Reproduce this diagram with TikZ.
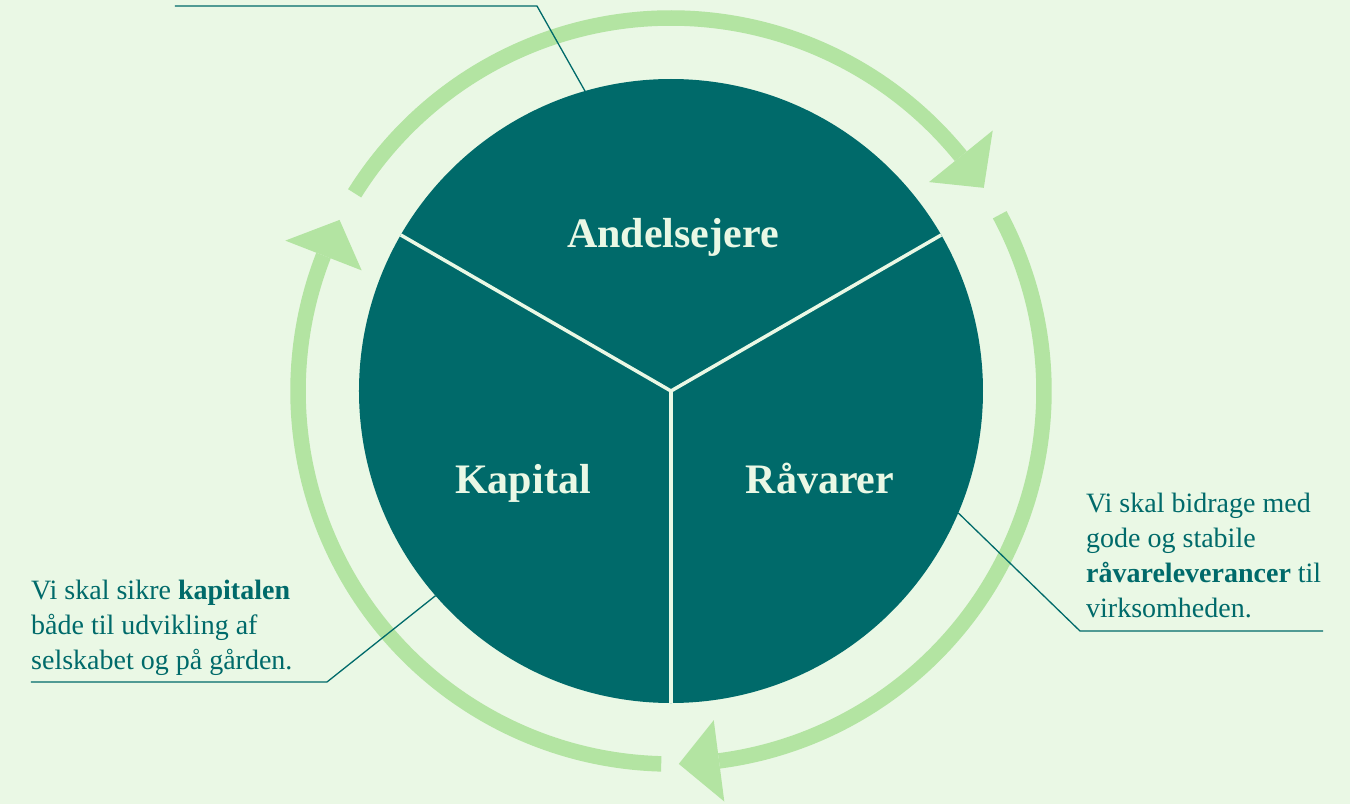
\documentclass[tikz,border=0pt]{standalone}
\usepackage{fontspec}
\setmainfont{Liberation Serif}
\definecolor{bgc}{HTML}{EAF8E5}
\definecolor{tealc}{HTML}{006A6A}
\definecolor{ringc}{HTML}{B3E4A2}
\begin{document}
\begin{tikzpicture}[x=1pt,y=1pt,
  ring/.style={draw=ringc, line width=15.5pt},
  head/.style={fill=ringc},
  leader/.style={draw=tealc, line width=1.3pt},
  divider/.style={draw=bgc, line width=3.5pt},
  big/.style={text=bgc, font=\fontsize{42}{50}\selectfont\bfseries, inner sep=0pt, anchor=base},
  note/.style={text=tealc, font=\fontsize{28}{34.7}\selectfont, align=left, inner sep=0pt, anchor=base west}]
\fill[bgc] (-671,-413) rectangle (679,391);
\useasboundingbox (-671,-413) rectangle (679,391);
% ring arrows
\draw[ring] (148:373) arc[start angle=148, end angle=39, radius=373];
\fill[head] (39:332) -- (39:414) -- (33:373) -- cycle;
\draw[ring] (28.2:373) arc[start angle=28.2, end angle=-82.6, radius=373];
\fill[head] (-82.6:332) -- (-82.6:414) -- (-88.8:373) -- cycle;
\draw[ring] (268.5:373) arc[start angle=268.5, end angle=158.7, radius=373];
\fill[head] (158.7:332) -- (158.7:414) -- (152.7:373) -- cycle;
% circle
\node[circle, fill=tealc, minimum size=624pt, inner sep=0pt, outer sep=0pt] (circ) at (0,0) {};
\draw[divider] (circ.center) -- (circ.150);
\draw[divider] (circ.center) -- (circ.30);
\draw[divider] (circ.center) -- (circ.270);
\node[big] (andel) at (2,144) {Andelsejere};
\node[big] (kap) at (-148,-102) {Kapital};
\node[big] (raa) at (149,-102) {Råvarer};
% leaders
\coordinate (tc) at (-134,385);
\coordinate (te) at (-496,385);
\draw[leader] (circ.106) -- (tc) -- (te);
\coordinate (rc) at (409,-240);
\coordinate (re) at (652,-240);
\draw[leader] (circ.-23.7) -- (rc) -- (re);
\coordinate (lc) at (-344,-291);
\coordinate (le) at (-640,-291);
\draw[leader] (circ.221.8) -- (lc) -- (le);
% notes (base anchor = last line baseline)
\node[note] (rnote) at (415,-226) {Vi skal bidrage med\\gode og stabile\\\textbf{råvareleverancer} til\\virksomheden.};
\node[note] (lnote) at (-640,-278) {Vi skal sikre \textbf{kapitalen}\\både til udvikling af\\selskabet og på gården.};
\end{tikzpicture}
\end{document}
